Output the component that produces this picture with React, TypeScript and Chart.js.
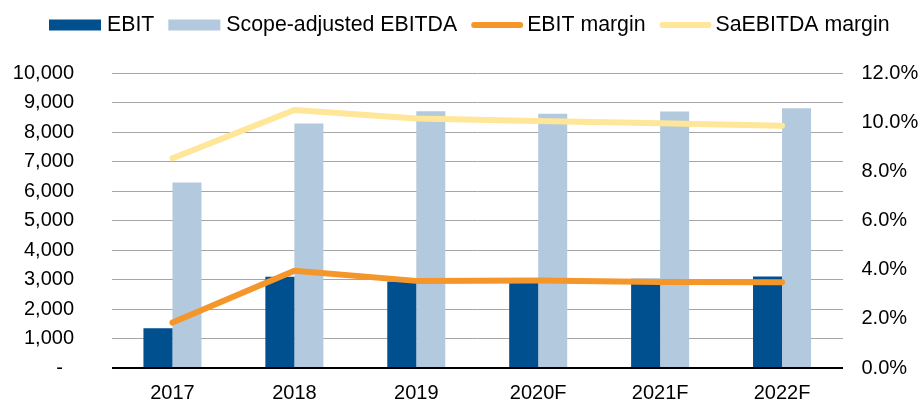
import React, { useEffect, useRef } from "react";
import { Chart, registerables } from "chart.js";

Chart.register(...registerables);

const categories = ["2017", "2018", "2019", "2020F", "2021F", "2022F"];
const ebit = [1350, 3100, 2940, 2950, 3030, 3110];
const saEbitda = [6300, 8300, 8720, 8630, 8710, 8820];
const ebitMargin = [1.85, 3.96, 3.55, 3.57, 3.5, 3.49];
const saEbitdaMargin = [8.55, 10.51, 10.17, 10.06, 9.97, 9.87];
const leftTicks = { min: 0, max: 10000, step: 1000 };
const rightTicks = { min: 0, max: 12, step: 2 };

const FONT = "'Liberation Sans', Arial, sans-serif";
const C_EBIT = "#00508F";
const C_EBITDA = "#B3C9DD";
const C_EBIT_M = "#F5962A";
const C_SA_M = "#FFE699";

const legendItems = [
  { label: "EBIT", color: C_EBIT, type: "box" },
  { label: "Scope-adjusted EBITDA", color: C_EBITDA, type: "box" },
  { label: "EBIT margin", color: C_EBIT_M, type: "line" },
  { label: "SaEBITDA margin", color: C_SA_M, type: "line" },
];

const legendPlugin = {
  id: "customLegend",
  afterDraw(chart: any) {
    const ctx = chart.ctx;
    ctx.save();
    ctx.font = `21.3px ${FONT}`;
    ctx.textBaseline = "middle";
    ctx.textAlign = "left";
    let x = 49;
    const yc = 25;
    legendItems.forEach((it) => {
      if (it.type === "box") {
        ctx.fillStyle = it.color;
        ctx.fillRect(x, yc - 5.5, 52, 11);
      } else {
        ctx.strokeStyle = it.color;
        ctx.lineWidth = 6;
        ctx.lineCap = "round";
        ctx.beginPath();
        ctx.moveTo(x + 3, yc);
        ctx.lineTo(x + 49, yc);
        ctx.stroke();
      }
      const tx = x + 52 + (it.type === "box" ? 6 : 4);
      ctx.fillStyle = "#000";
      ctx.fillText(it.label, tx, yc);
      const w = ctx.measureText(it.label).width;
      x = tx + w + 14;
    });
    ctx.restore();
  },
};

export default function App() {
  const ref = useRef<HTMLCanvasElement | null>(null);
  useEffect(() => {
    document.body.style.margin = "0";
    if (!ref.current) return;
    const chart = new Chart(ref.current, {
      type: "bar",
      data: {
        labels: categories,
        datasets: [
          {
            type: "line",
            label: "EBIT margin",
            data: ebitMargin,
            yAxisID: "y2",
            borderColor: C_EBIT_M,
            backgroundColor: C_EBIT_M,
            borderWidth: 6,
            borderCapStyle: "round",
            borderJoinStyle: "round",
            pointRadius: 0,
            tension: 0,
            order: 0,
          },
          {
            type: "line",
            label: "SaEBITDA margin",
            data: saEbitdaMargin,
            yAxisID: "y2",
            borderColor: C_SA_M,
            backgroundColor: C_SA_M,
            borderWidth: 6,
            borderCapStyle: "round",
            borderJoinStyle: "round",
            pointRadius: 0,
            tension: 0,
            order: 0,
          },
          {
            type: "bar",
            label: "EBIT",
            data: ebit,
            yAxisID: "y",
            backgroundColor: C_EBIT,
            categoryPercentage: 0.476,
            barPercentage: 1,
            order: 1,
          },
          {
            type: "bar",
            label: "Scope-adjusted EBITDA",
            data: saEbitda,
            yAxisID: "y",
            backgroundColor: C_EBITDA,
            categoryPercentage: 0.476,
            barPercentage: 1,
            order: 1,
          },
        ],
      },
      options: {
        responsive: false,
        animation: false,
        layout: { padding: { top: 73.5, left: 0, right: 0, bottom: 0 } },
        plugins: {
          legend: { display: false },
          tooltip: { enabled: false },
        },
        scales: {
          x: {
            grid: { display: false, drawTicks: true, tickLength: 13, tickColor: "rgba(0,0,0,0)" },
            border: { display: false },
            ticks: {
              padding: 0,
              color: "#000",
              font: { family: FONT, size: 20 },
              maxRotation: 0,
            },
            afterFit(scale: any) {
              scale.height = 35;
            },
          },
          y: {
            position: "left",
            min: leftTicks.min,
            max: leftTicks.max,
            grid: {
              drawTicks: true,
              tickLength: 37.5,
              tickColor: "rgba(0,0,0,0)",
              color: (c: any) => (c.tick && c.tick.value === 0 ? "#000" : "#A6A6A6"),
              lineWidth: (c: any) => (c.tick && c.tick.value === 0 ? 2 : 1),
            },
            border: { display: false },
            ticks: {
              stepSize: leftTicks.step,
              padding: 0,
              color: "#000",
              font: { family: FONT, size: 20 },
              callback: (v: any) => (v === 0 ? "-  " : Number(v).toLocaleString("en-US")),
            },
            afterFit(scale: any) {
              scale.width = 111.5;
            },
          },
          y2: {
            position: "right",
            min: rightTicks.min,
            max: rightTicks.max,
            grid: { display: false, drawTicks: true, tickLength: 18.5, tickColor: "rgba(0,0,0,0)" },
            border: { display: false },
            ticks: {
              stepSize: rightTicks.step,
              padding: 0,
              color: "#000",
              font: { family: FONT, size: 20 },
              callback: (v: any) => Number(v).toFixed(1) + "%",
            },
            afterFit(scale: any) {
              scale.width = 81;
            },
          },
        },
      },
      plugins: [legendPlugin],
    });
    return () => chart.destroy();
  }, []);
  return (
    <div style={{ width: 924, height: 403 }}>
      <canvas ref={ref} width={924} height={403} style={{ display: "block" }} />
    </div>
  );
}
